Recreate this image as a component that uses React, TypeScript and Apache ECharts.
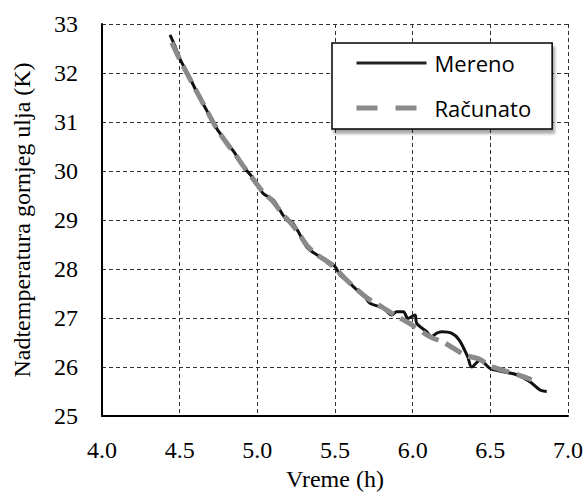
import React, { useEffect, useRef } from "react";
import * as echarts from "echarts";

const xAxisName = "Vreme (h)";
const yAxisName = "Nadtemperatura gornjeg ulja (K)";
const seriesNames = ["Mereno", "Računato"];

const measuredX = [
  4.438, 4.47, 4.5, 4.556, 4.62, 4.684, 4.738, 4.792, 4.856, 4.91, 4.974, 5.038, 5.103, 5.157,
  5.189, 5.22, 5.264, 5.318, 5.382, 5.447, 5.5, 5.532, 5.597, 5.618, 5.693, 5.725, 5.811, 5.865,
  5.897, 5.94, 5.97, 6.015, 6.026, 6.09, 6.12, 6.155, 6.187, 6.25, 6.3, 6.354, 6.38, 6.434,
  6.498, 6.584, 6.67, 6.755, 6.82, 6.863,
];
const measuredY = [
  32.78, 32.55, 32.3, 31.96, 31.55, 31.18, 30.87, 30.63, 30.36, 30.09, 29.85, 29.54, 29.41, 29.14,
  29.0, 28.97, 28.76, 28.45, 28.29, 28.18, 28.05, 27.88, 27.71, 27.64, 27.43, 27.3, 27.2, 27.06,
  27.13, 27.13, 26.99, 27.06, 26.89, 26.72, 26.62, 26.69, 26.72, 26.69, 26.55, 26.21, 26.0, 26.14,
  25.97, 25.9, 25.84, 25.7, 25.53, 25.5,
];

const computedX = [
  4.45, 4.5, 4.556, 4.62, 4.684, 4.74, 4.8, 4.86, 4.91, 4.974, 5.04, 5.1, 5.16, 5.22, 5.264, 5.32,
  5.38, 5.45, 5.5, 5.56, 5.62, 5.69, 5.75, 5.78, 5.886, 5.98, 6.11, 6.2, 6.34, 6.43, 6.5, 6.584,
  6.67, 6.766,
];
const computedY = [
  32.62, 32.28, 31.94, 31.56, 31.18, 30.86, 30.58, 30.33, 30.1, 29.83, 29.56, 29.38, 29.13, 28.92,
  28.74, 28.48, 28.3, 28.15, 28.02, 27.82, 27.64, 27.45, 27.32, 27.27, 27.06, 26.89, 26.62, 26.5,
  26.24, 26.16, 26.02, 25.93, 25.85, 25.74,
];

const X_MIN = 4.0;
const X_MAX = 7.0;
const X_STEP = 0.5;
const Y_MIN = 25;
const Y_MAX = 33;
const Y_STEP = 1;

const SERIF = "Times New Roman";
const SANS = "Open Sans";

export default function App() {
  const ref = useRef<HTMLDivElement>(null);

  useEffect(() => {
    if (!ref.current) return;
    const chart = echarts.init(ref.current, null, { renderer: "svg" });
    const measured = measuredX.map((x, i) => [x, measuredY[i]]);
    const computed = computedX.map((x, i) => [x, computedY[i]]);

    const gridLine = { show: true, lineStyle: { color: "#333", width: 1, type: [4, 3] as any } };
    const serifText = { fontFamily: SERIF, fontSize: 24, color: "#000", fontWeight: "normal" as const };

    chart.setOption({
      animation: false,
      backgroundColor: "#fff",
      textStyle: { fontFamily: SERIF },
      grid: { left: 102, right: 19, top: 24, bottom: 85, containLabel: false },
      legend: {
        orient: "vertical",
        left: 332,
        top: 43,
        padding: [7, 21, 8, 22],
        itemGap: 19,
        itemWidth: 70,
        itemHeight: 14,
        backgroundColor: "#fff",
        borderColor: "#000",
        borderWidth: 1.5,
        shadowColor: "rgba(0,0,0,0.35)",
        shadowBlur: 3,
        shadowOffsetX: 2,
        shadowOffsetY: 4,
        textStyle: {
          fontFamily: SANS,
          fontSize: 22,
          color: "#000",
          lineHeight: 26,
          padding: [0, 0, 0, 3],
        },
        data: [
          {
            name: seriesNames[0],
            itemStyle: { opacity: 0 },
            lineStyle: { color: "#222", width: 3, type: "solid" },
          },
          {
            name: seriesNames[1],
            itemStyle: { opacity: 0 },
            lineStyle: { color: "#8a8a8a", width: 5, type: [21, 18] },
          },
        ],
      },
      xAxis: {
        type: "value",
        min: X_MIN,
        max: X_MAX,
        interval: X_STEP,
        name: xAxisName,
        nameLocation: "middle",
        nameGap: 46,
        nameTextStyle: serifText,
        axisLine: { show: true, onZero: false, lineStyle: { color: "#000", width: 2 } },
        axisTick: { show: false },
        axisLabel: {
          ...serifText,
          margin: 22,
          formatter: (v: number) => v.toFixed(1),
        },
        splitLine: gridLine,
      },
      yAxis: {
        type: "value",
        min: Y_MIN,
        max: Y_MAX,
        interval: Y_STEP,
        name: yAxisName,
        nameLocation: "middle",
        nameGap: 68,
        nameTextStyle: serifText,
        axisLine: { show: true, onZero: false, lineStyle: { color: "#000", width: 2 } },
        axisTick: { show: false },
        axisLabel: { ...serifText, margin: 24 },
        splitLine: gridLine,
      },
      series: [
        {
          name: seriesNames[0],
          type: "line",
          data: measured,
          symbol: "none",
          smooth: 0.3,
          itemStyle: { color: "#111" },
          lineStyle: { color: "#111", width: 3 },
          z: 2,
        },
        {
          name: seriesNames[1],
          type: "line",
          data: computed,
          symbol: "none",
          smooth: 0.3,
          itemStyle: { color: "#8a8a8a" },
          lineStyle: { color: "#8a8a8a", width: 5, type: [18, 8] },
          z: 3,
        },
      ],
    });
    return () => chart.dispose();
  }, []);

  return (
    <div
      ref={ref}
      style={{ position: "fixed", left: 0, top: 0, width: 587, height: 501, background: "#fff" }}
    />
  );
}
